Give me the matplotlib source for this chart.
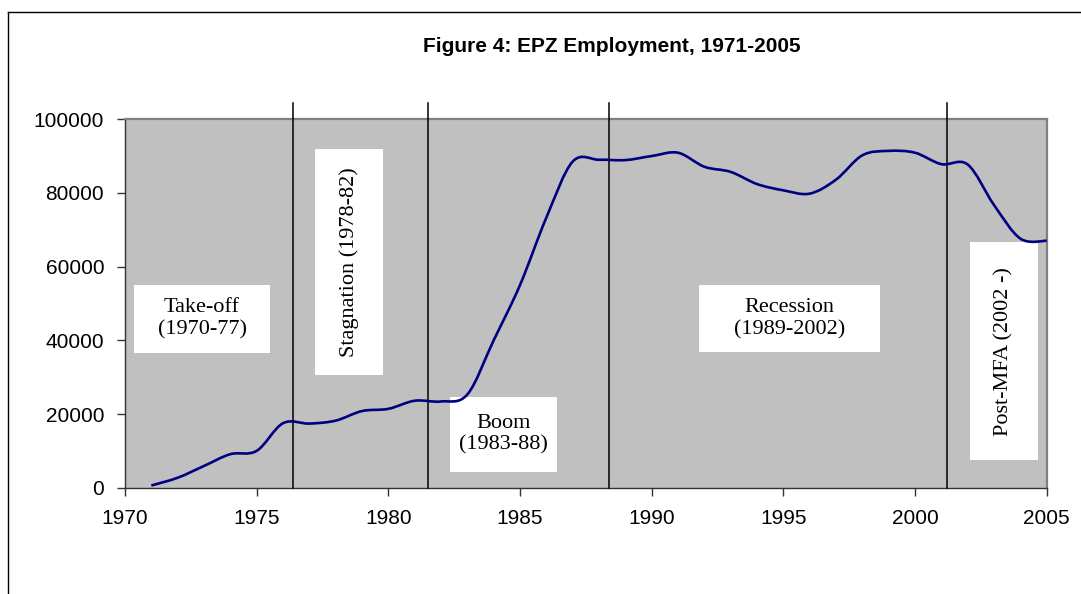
import numpy as np
import matplotlib
matplotlib.use("Agg")
import matplotlib.pyplot as plt
from matplotlib.path import Path
from matplotlib.patches import PathPatch, Rectangle
from matplotlib.lines import Line2D

# ── Data ──────────────────────────────────────────────────────
years = [1971, 1972, 1973, 1974, 1975, 1976, 1977, 1978, 1979, 1980,
         1981, 1982, 1983, 1984, 1985, 1986, 1987, 1988, 1989, 1990,
         1991, 1992, 1993, 1994, 1995, 1996, 1997, 1998, 1999, 2000,
         2001, 2002, 2003, 2004, 2005]
employment = [600, 2700, 5900, 9100, 10000, 17500, 17400, 18200, 20800, 21400,
              23600, 23400, 25300, 40000, 55000, 73300, 88500, 89000, 88900, 90000,
              90900, 87100, 85700, 82400, 80700, 79800, 83600, 90200, 91400, 90900,
              87800, 87700, 76700, 67600, 67000]

phase_breaks = [1976.37, 1981.5, 1988.37, 2001.23]

# (label, x0, x1, y0, y1, rotated)
phase_boxes = [
    ("Take-off\n(1970-77)",   1970.34, 1975.51, 36600, 55000, False),
    ("Stagnation (1978-82)",  1977.22, 1979.79, 30600, 91800, True),
    ("Boom\n(1983-88)",       1982.34, 1986.40,  4300, 24700, False),
    ("Recession\n(1989-2002)", 1991.80, 1998.67, 36800, 55000, False),
    ("Post-MFA (2002 -)",     2002.09, 2004.66,  7500, 66600, True),
]

x_ticks = [1970, 1975, 1980, 1985, 1990, 1995, 2000, 2005]
y_ticks = [0, 20000, 40000, 60000, 80000, 100000]

# ── Excel-style smoothed line (cubic Bezier through points) ───
def smooth_path(xs, ys):
    p = np.column_stack([xs, ys]).astype(float)
    ext = np.vstack([p[0], p, p[-1]])
    verts = [p[0]]
    codes = [Path.MOVETO]
    for i in range(len(p) - 1):
        p0, p1, p2, p3 = ext[i], ext[i + 1], ext[i + 2], ext[i + 3]
        c1 = p1 + (p2 - p0) / 6.0
        c2 = p2 - (p3 - p1) / 6.0
        verts += [c1, c2, p2]
        codes += [Path.CURVE4] * 3
    return Path(verts, codes)

fig = plt.figure(figsize=(10.81, 5.94), dpi=100)
ax = fig.add_axes([125 / 1081, 1 - 487.7 / 594, (1046.7 - 125) / 1081, (487.7 - 119.2) / 594])
ax.set_facecolor("#C0C0C0")
ax.set_xlim(1970, 2005)
ax.set_ylim(0, 100000)

for lab, x0, x1, y0, y1, rot in phase_boxes:
    ax.add_patch(Rectangle((x0, y0), x1 - x0, y1 - y0, facecolor="white",
                           edgecolor="none", zorder=2))
    ax.text((x0 + x1) / 2, (y0 + y1) / 2, lab, ha="center", va="center",
            rotation=90 if rot else 0, fontsize=16, family="Liberation Serif",
            linespacing=1.2, zorder=3)

for xb in phase_breaks:
    ax.plot([xb, xb], [0, 104400], color="black", lw=1.1, clip_on=False, zorder=4)

ax.add_patch(PathPatch(smooth_path(years, employment), facecolor="none",
                       edgecolor="#000080", lw=1.9, zorder=5))

ax.set_xticks(x_ticks)
ax.set_yticks(y_ticks)
ax.set_yticklabels([str(v) for v in y_ticks])
ax.tick_params(axis="both", direction="out", length=6, width=1, color="#333333",
               labelsize=15)
ax.tick_params(axis="y", pad=9)
ax.tick_params(axis="x", pad=9)
for lbl in ax.get_xticklabels() + ax.get_yticklabels():
    lbl.set_family("Liberation Sans")
for s in ["left", "bottom"]:
    ax.spines[s].set_color("#333333")
    ax.spines[s].set_linewidth(1.0)
for s in ["top", "right"]:
    ax.spines[s].set_color("#808080")
    ax.spines[s].set_linewidth(1.6)

fig.text(612 / 1081, 1 - 47 / 594, "Figure 4: EPZ Employment, 1971-2005",
         ha="center", va="center", fontsize=15, fontweight="bold",
         family="Liberation Sans")

# chart-area frame (left and top edges visible)
fig.add_artist(Line2D([8.3 / 1081, 8.3 / 1081], [0, 1 - 11.7 / 594],
                      transform=fig.transFigure, color="black", lw=1.0))
fig.add_artist(Line2D([8.3 / 1081, 1], [1 - 11.7 / 594, 1 - 11.7 / 594],
                      transform=fig.transFigure, color="black", lw=1.0))

fig.savefig("out.png", dpi=100)
